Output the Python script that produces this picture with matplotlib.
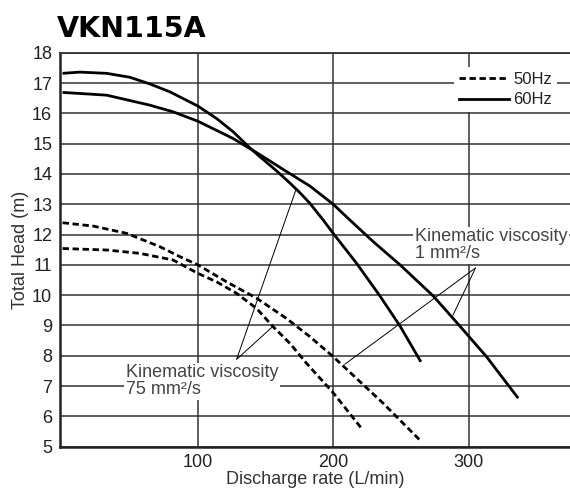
"""VKN115A pump performance curves (total head vs discharge rate)"""
import matplotlib
matplotlib.use('Agg')
import matplotlib.pyplot as plt

plt.rcParams['font.family'] = ['Liberation Sans', 'DejaVu Sans']

# 60Hz, curve with higher shut-off head (75 mm2/s label points here)
q_60_a = [0, 12.7, 32.5, 49.7, 64.5, 79.3, 100, 113.8, 126.1, 138.4, 145, 158.2, 168,
          175.4, 182.8, 192.6, 200, 217.3, 234.6, 249.4, 264.8]
h_60_a = [17.32, 17.36, 17.32, 17.19, 16.97, 16.71, 16.24, 15.83, 15.39, 14.86, 14.6, 14.1, 13.7,
          13.38, 13.03, 12.48, 12.04, 11.05, 9.97, 8.98, 7.8]

# 60Hz, curve with lower shut-off head (1 mm2/s)
q_60_b = [0, 32.5, 64.5, 81.7, 100, 126, 145, 163, 182.8, 200, 212.3, 230, 249.4,
          274, 293.6, 313.3, 336.7]
h_60_b = [16.69, 16.6, 16.27, 16.05, 15.74, 15.17, 14.66, 14.15, 13.6, 13.0, 12.48, 11.75, 11.0,
          9.97, 8.98, 7.97, 6.6]

# 50Hz dashed curves
q_50_a = [0, 22.6, 47.3, 71.9, 86.7, 100, 121.2, 143.4, 165.5, 182.8, 200, 237, 264]
h_50_a = [12.39, 12.28, 12.04, 11.6, 11.27, 11.0, 10.44, 9.9, 9.23, 8.63, 7.97, 6.43, 5.22]

q_50_b = [0, 32.5, 57, 81.7, 100, 113.8, 128.6, 143.4, 155.6, 168, 180.3, 200, 221]
h_50_b = [11.54, 11.49, 11.38, 11.16, 10.72, 10.44, 10.06, 9.56, 8.96, 8.41, 7.75, 6.78, 5.6]

x_ticks = [100, 200, 300]
y_ticks = list(range(5, 19))

fig = plt.figure(figsize=(5.7, 4.9), dpi=100)
ax = fig.add_axes([0.105, 0.0884, 0.895, 0.804])

grid_c = '#333333'
dash = (0, (2.3, 1.3))

ax.plot(q_60_a, h_60_a, color='black', lw=2.0, solid_capstyle='butt', zorder=3)
ax.plot(q_60_b, h_60_b, color='black', lw=2.0, solid_capstyle='butt', zorder=3)
ax.plot(q_50_a, h_50_a, color='black', lw=2.0, linestyle=dash, zorder=3)
ax.plot(q_50_b, h_50_b, color='black', lw=2.0, linestyle=dash, zorder=3)

ax.set_xlim(-2, 375)
ax.set_ylim(5, 18)
ax.set_xticks(x_ticks)
ax.set_yticks(y_ticks)
ax.tick_params(length=0, labelsize=13, colors='#222222', pad=5.5)
ax.grid(True, color=grid_c, lw=1.1)
ax.set_axisbelow(True)

for side in ['left', 'bottom']:
    ax.spines[side].set_linewidth(1.8)
    ax.spines[side].set_color('#222222')
ax.spines['top'].set_linewidth(1.3)
ax.spines['top'].set_color(grid_c)
ax.spines['right'].set_visible(False)

ax.set_xlabel('Discharge rate (L/min)', fontsize=13, color='#333333', labelpad=0)
ax.set_ylabel('Total Head (m)', fontsize=13, color='#333333', labelpad=2)

fig.text(0.1, 0.94, 'VKN115A', fontsize=20.5, fontweight='heavy',
         family='DejaVu Sans', va='center', ha='left')

# legend
leg_handles = [
    plt.Line2D([], [], color='black', lw=2.0, linestyle=dash),
    plt.Line2D([], [], color='black', lw=2.0),
]
leg = ax.legend(leg_handles, ['50Hz', '60Hz'], loc='upper right',
                bbox_to_anchor=(0.975, 0.965), fontsize=12, frameon=True,
                facecolor='white', edgecolor='none', framealpha=1,
                handlelength=3.0, handletextpad=0.25, borderpad=0.3,
                labelspacing=0.35, borderaxespad=0, fancybox=False)
for t in leg.get_texts():
    t.set_color('#222222')

# annotations: leader lines
ann_kw = dict(color='black', lw=0.7, zorder=4)
ax.plot([172.4, 128.6, 155.7], [13.47, 7.88, 8.98], **ann_kw)
ax.plot([288.5, 305.2, 208.6], [9.34, 10.9, 7.72], **ann_kw)

box = dict(facecolor='white', edgecolor='none', pad=1)
ax.text(46.8, 7.16, 'Kinematic viscosity\n75 mm²/s', fontsize=13, color='#444444',
        va='center', ha='left', linespacing=1.0, bbox=box, zorder=5)
ax.text(260.4, 11.64, 'Kinematic viscosity\n1 mm²/s', fontsize=13, color='#444444',
        va='center', ha='left', linespacing=1.0, bbox=box, zorder=5)

fig.savefig('out.png', dpi=100)
